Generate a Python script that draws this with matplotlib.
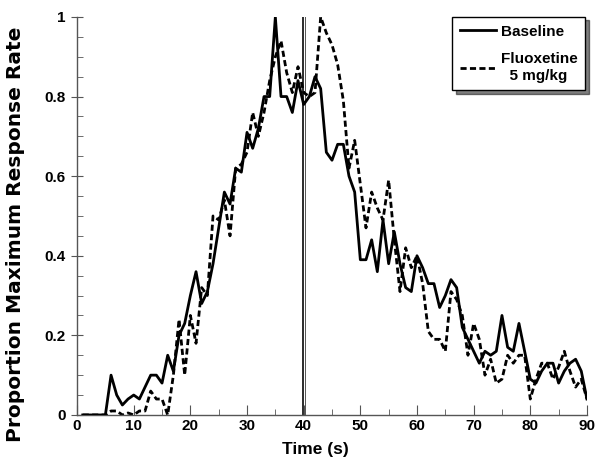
import matplotlib.pyplot as plt
import numpy as np
from matplotlib.ticker import MultipleLocator

plt.rcParams['font.family'] = ['Liberation Sans', 'DejaVu Sans']
plt.rcParams['font.weight'] = 'bold'

# time bins (s)
time = np.arange(1, 91)

baseline = [0, 0, 0, 0, 0, 0.10, 0.05, 0.025, 0.04, 0.05,
            0.04, 0.07, 0.10, 0.10, 0.08, 0.15, 0.11, 0.20, 0.23, 0.30,
            0.36, 0.28, 0.31, 0.38, 0.47, 0.56, 0.53, 0.62, 0.61, 0.71,
            0.67, 0.72, 0.80, 0.80, 1.00, 0.80, 0.80, 0.76, 0.84, 0.78,
            0.80, 0.85, 0.82, 0.66, 0.64, 0.68, 0.68, 0.60, 0.56, 0.39,
            0.39, 0.44, 0.36, 0.49, 0.38, 0.46, 0.38, 0.32, 0.31, 0.40,
            0.37, 0.33, 0.33, 0.27, 0.30, 0.34, 0.32, 0.22, 0.19, 0.16,
            0.13, 0.16, 0.15, 0.16, 0.25, 0.17, 0.16, 0.23, 0.16, 0.09,
            0.08, 0.11, 0.13, 0.13, 0.08, 0.11, 0.13, 0.14, 0.11, 0.04]

fluoxetine = [0, 0, 0, 0, 0, 0.01, 0.01, 0.0, 0.005, 0.0,
              0.01, 0.01, 0.06, 0.04, 0.04, 0.0, 0.10, 0.24, 0.10, 0.25,
              0.18, 0.32, 0.30, 0.50, 0.49, 0.54, 0.45, 0.62, 0.63, 0.66,
              0.76, 0.70, 0.76, 0.84, 0.90, 0.94, 0.86, 0.81, 0.875, 0.81,
              0.80, 0.81, 1.00, 0.96, 0.93, 0.88, 0.79, 0.62, 0.69, 0.58,
              0.47, 0.56, 0.52, 0.49, 0.59, 0.44, 0.31, 0.42, 0.37, 0.40,
              0.33, 0.21, 0.19, 0.19, 0.16, 0.31, 0.29, 0.25, 0.15, 0.23,
              0.19, 0.10, 0.14, 0.08, 0.09, 0.15, 0.13, 0.15, 0.15, 0.04,
              0.09, 0.13, 0.13, 0.09, 0.12, 0.16, 0.11, 0.07, 0.09, 0.04]

fig = plt.figure(figsize=(6.02, 4.71), dpi=100)
ax = fig.add_axes([0.128, 0.119, 0.847, 0.845])

# double vertical line at 40 s
ax.axvline(40, color='black', linewidth=2.6, zorder=1)
ax.axvline(40, color='white', linewidth=1.0, zorder=1)

ax.plot(time, baseline, color='black', linewidth=2.0, label='Baseline', zorder=3)
ax.plot(time, fluoxetine, color='black', linewidth=2.0, linestyle=(0, (2.2, 1.2)),
        label='Fluoxetine\n  5 mg/kg', zorder=2)

ax.set_xlim(0, 90)
ax.set_ylim(0, 1)
ax.xaxis.set_major_locator(MultipleLocator(10))
ax.xaxis.set_minor_locator(MultipleLocator(5))
ax.yaxis.set_major_locator(MultipleLocator(0.2))
ax.yaxis.set_minor_locator(MultipleLocator(0.05))
ax.set_yticks([0, 0.2, 0.4, 0.6, 0.8, 1.0])
ax.set_yticklabels(['0', '0.2', '0.4', '0.6', '0.8', '1'])

ax.spines['top'].set_visible(False)
ax.spines['right'].set_visible(False)
for s in ['left', 'bottom']:
    ax.spines[s].set_color('#555555')
    ax.spines[s].set_linewidth(1.0)

ax.tick_params(axis='x', which='major', direction='in', length=7, color='#555555', labelsize=11, pad=3)
ax.tick_params(axis='x', which='minor', direction='in', length=4, color='#555555')
ax.tick_params(axis='y', which='major', direction='inout', length=9, color='#555555', labelsize=11)
ax.tick_params(axis='y', which='minor', direction='in', length=4, color='#555555')
for lab in ax.get_xticklabels() + ax.get_yticklabels():
    lab.set_fontweight('bold')

ax.set_xlabel('Time (s)', fontsize=12.5, fontweight='bold')
ax.xaxis.set_label_coords(0.467, -0.068)
ax.set_ylabel('Proportion Maximum Response Rate', fontsize=14.5, fontweight='bold',
              family=['DejaVu Sans'])
ax.yaxis.set_label_coords(-0.102, 0.455)

leg = ax.legend(loc='upper right', bbox_to_anchor=(0.997, 1.0), borderaxespad=0.0,
                frameon=True, fancybox=False,
                shadow={'color': 'black', 'ox': 2.5, 'oy': -2.5}, edgecolor='black',
                handlelength=2.4, handletextpad=0.3, borderpad=0.5,
                labelspacing=0.9, prop={'weight': 'bold', 'size': 11})
leg.get_frame().set_linewidth(1.0)

plt.savefig('out.png', dpi=100)
